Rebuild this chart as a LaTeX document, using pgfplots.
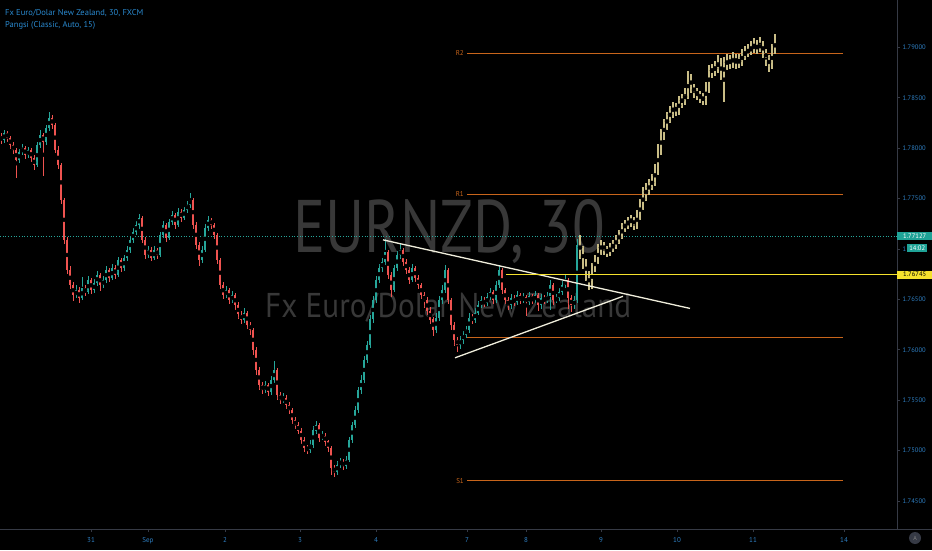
\documentclass[border=0pt]{standalone}
\usepackage{fontspec}
\setmainfont{PT Sans}
\usepackage{graphicx}
\usepackage{pgfplots}
\usepackage{pgfplotstable}
\pgfplotsset{compat=1.18}

\definecolor{upc}{HTML}{26A69A}
\definecolor{dnc}{HTML}{EF5350}
\definecolor{proj}{HTML}{C9BD86}
\definecolor{pivc}{HTML}{C8651B}
\definecolor{yelc}{HTML}{F5E12D}
\definecolor{trendc}{HTML}{F0EEDC}
\definecolor{wmc}{HTML}{383838}
\definecolor{axc}{HTML}{363A45}
\definecolor{tickc}{HTML}{2F80C4}
\definecolor{legc}{HTML}{2A8AD0}
\definecolor{tealbox}{HTML}{1FA397}

\pgfplotsset{
  body/.style 2 args={only marks, mark=none, restrict y to domain=1.7:1.8,
    error bars/y dir=both, error bars/y explicit, error bars/error mark=none,
    error bars/error bar style={draw=#1, line width=#2}},
  wick/.style 2 args={only marks, mark=none, restrict y to domain=1.7:1.8,
    error bars/y dir=both, error bars/y explicit, error bars/error mark=none,
    error bars/error bar style={draw=#1, line width=#2}},
}

% 30 min candles, x = horizontal position on the chart
\pgfplotstableread{
x o h l c
1 1.7812 1.7815 1.7804 1.7808
4 1.7808 1.7818 1.7805 1.7815
7 1.7815 1.7817 1.7806 1.7810
10 1.7810 1.7812 1.7799 1.7803
13 1.7803 1.7806 1.7794 1.7798
16 1.7798 1.7800 1.7770 1.7788
19 1.7788 1.7799 1.7785 1.7796
22 1.7796 1.7804 1.7793 1.7800
25 1.7800 1.7802 1.7789 1.7793
28 1.7793 1.7801 1.7790 1.7798
31 1.7798 1.7800 1.7786 1.7790
34 1.7790 1.7793 1.7778 1.7783
37 1.7783 1.7806 1.7781 1.7803
40 1.7803 1.7818 1.7800 1.7813
43 1.7813 1.7815 1.7772 1.7806
46 1.7806 1.7823 1.7803 1.7820
49 1.7820 1.7836 1.7817 1.7830
52 1.7830 1.7833 1.7819 1.7823
55 1.7823 1.7825 1.7795 1.7798
58 1.7798 1.7802 1.7779 1.7783
61 1.7783 1.7785 1.7745 1.7749
64 1.7749 1.7751 1.7705 1.7709
67 1.7709 1.7712 1.7675 1.7679
70 1.7679 1.7683 1.7660 1.7664
73 1.7664 1.7667 1.7648 1.7654
76 1.7654 1.7664 1.7651 1.7659
79 1.7659 1.7662 1.7646 1.7651
82 1.7651 1.7672 1.7649 1.7661
85 1.7661 1.7664 1.7653 1.7657
88 1.7657 1.7673 1.7655 1.7669
91 1.7669 1.7671 1.7655 1.7659
94 1.7659 1.7670 1.7656 1.7666
97 1.7666 1.7678 1.7663 1.7674
100 1.7674 1.7676 1.7658 1.7664
103 1.7664 1.7673 1.7661 1.7669
106 1.7669 1.7683 1.7666 1.7679
109 1.7679 1.7681 1.7667 1.7671
112 1.7671 1.7685 1.7669 1.7681
115 1.7681 1.7684 1.7670 1.7674
118 1.7674 1.7692 1.7672 1.7689
121 1.7689 1.7691 1.7677 1.7681
124 1.7681 1.7694 1.7678 1.7691
127 1.7691 1.7703 1.7688 1.7699
130 1.7699 1.7712 1.7696 1.7709
133 1.7709 1.7721 1.7706 1.7717
136 1.7717 1.7728 1.7714 1.7724
139 1.7724 1.7735 1.7720 1.7731
142 1.7731 1.7733 1.7706 1.7709
145 1.7709 1.7712 1.7690 1.7694
148 1.7694 1.7703 1.7691 1.7699
151 1.7699 1.7702 1.7688 1.7691
154 1.7691 1.7703 1.7689 1.7699
157 1.7699 1.7701 1.7690 1.7694
160 1.7694 1.7717 1.7692 1.7714
163 1.7714 1.7728 1.7711 1.7724
166 1.7724 1.7726 1.7707 1.7711
169 1.7711 1.7730 1.7709 1.7727
172 1.7727 1.7738 1.7724 1.7734
175 1.7734 1.7736 1.7720 1.7724
178 1.7724 1.7741 1.7722 1.7737
181 1.7737 1.7740 1.7727 1.7731
184 1.7731 1.7742 1.7729 1.7739
187 1.7739 1.7748 1.7736 1.7744
190 1.7744 1.7756 1.7741 1.7749
193 1.7749 1.7751 1.7720 1.7724
196 1.7724 1.7727 1.7700 1.7704
199 1.7704 1.7707 1.7683 1.7689
202 1.7689 1.7703 1.7686 1.7699
205 1.7699 1.7725 1.7697 1.7721
208 1.7721 1.7733 1.7718 1.7729
211 1.7729 1.7731 1.7720 1.7724
214 1.7724 1.7726 1.7710 1.7714
217 1.7714 1.7716 1.7685 1.7689
220 1.7689 1.7691 1.7660 1.7664
223 1.7664 1.7667 1.7650 1.7654
226 1.7654 1.7663 1.7651 1.7659
229 1.7659 1.7661 1.7645 1.7649
232 1.7649 1.7658 1.7646 1.7654
235 1.7654 1.7656 1.7640 1.7644
238 1.7644 1.7647 1.7631 1.7635
241 1.7635 1.7638 1.7626 1.7630
244 1.7630 1.7641 1.7627 1.7637
247 1.7637 1.7639 1.7621 1.7625
250 1.7625 1.7628 1.7615 1.7620
253 1.7620 1.7622 1.7595 1.7600
256 1.7600 1.7603 1.7575 1.7580
259 1.7580 1.7583 1.7560 1.7565
262 1.7565 1.7568 1.7556 1.7560
265 1.7560 1.7569 1.7557 1.7565
268 1.7565 1.7567 1.7554 1.7558
271 1.7558 1.7574 1.7555 1.7570
274 1.7570 1.7589 1.7567 1.7580
277 1.7580 1.7582 1.7550 1.7555
280 1.7555 1.7558 1.7546 1.7550
283 1.7550 1.7557 1.7547 1.7552
286 1.7552 1.7555 1.7541 1.7545
289 1.7545 1.7548 1.7536 1.7540
292 1.7540 1.7542 1.7526 1.7530
295 1.7530 1.7533 1.7521 1.7525
298 1.7525 1.7528 1.7516 1.7520
301 1.7520 1.7522 1.7507 1.7511
304 1.7511 1.7514 1.7499 1.7503
307 1.7503 1.7506 1.7497 1.7501
310 1.7501 1.7510 1.7498 1.7506
313 1.7506 1.7524 1.7503 1.7520
316 1.7520 1.7529 1.7517 1.7525
319 1.7525 1.7527 1.7509 1.7513
322 1.7513 1.7519 1.7510 1.7515
325 1.7515 1.7518 1.7505 1.7509
328 1.7509 1.7511 1.7499 1.7503
331 1.7503 1.7505 1.7476 1.7483
334 1.7483 1.7486 1.7474 1.7479
337 1.7479 1.7490 1.7476 1.7486
340 1.7486 1.7493 1.7483 1.7489
343 1.7489 1.7492 1.7481 1.7485
346 1.7485 1.7495 1.7482 1.7491
349 1.7491 1.7514 1.7489 1.7511
352 1.7511 1.7528 1.7508 1.7525
355 1.7525 1.7544 1.7522 1.7540
358 1.7540 1.7563 1.7537 1.7560
361 1.7560 1.7575 1.7556 1.7570
364 1.7570 1.7594 1.7567 1.7590
367 1.7590 1.7609 1.7587 1.7605
370 1.7605 1.7634 1.7602 1.7630
373 1.7630 1.7653 1.7627 1.7649
376 1.7649 1.7673 1.7646 1.7669
379 1.7669 1.7685 1.7666 1.7681
382 1.7681 1.7691 1.7677 1.7687
385 1.7687 1.7710 1.7684 1.7697
388 1.7697 1.7699 1.7670 1.7674
391 1.7674 1.7677 1.7652 1.7659
394 1.7659 1.7684 1.7657 1.7681
397 1.7681 1.7698 1.7678 1.7694
400 1.7694 1.7705 1.7690 1.7699
403 1.7699 1.7701 1.7683 1.7687
406 1.7687 1.7690 1.7675 1.7679
409 1.7679 1.7682 1.7665 1.7669
412 1.7669 1.7685 1.7667 1.7681
415 1.7681 1.7683 1.7667 1.7671
418 1.7671 1.7674 1.7660 1.7664
421 1.7664 1.7666 1.7650 1.7654
424 1.7654 1.7657 1.7642 1.7649
427 1.7649 1.7652 1.7634 1.7639
430 1.7639 1.7642 1.7626 1.7630
433 1.7630 1.7633 1.7614 1.7620
436 1.7620 1.7636 1.7617 1.7632
439 1.7632 1.7653 1.7629 1.7649
442 1.7649 1.7664 1.7645 1.7659
445 1.7659 1.7684 1.7656 1.7679
448 1.7679 1.7681 1.7645 1.7649
451 1.7649 1.7651 1.7620 1.7625
454 1.7625 1.7628 1.7604 1.7610
457 1.7610 1.7613 1.7598 1.7605
460 1.7605 1.7614 1.7601 1.7610
463 1.7610 1.7619 1.7606 1.7615
466 1.7615 1.7624 1.7612 1.7620
469 1.7620 1.7636 1.7617 1.7632
472 1.7632 1.7635 1.7626 1.7630
475 1.7630 1.7641 1.7627 1.7637
478 1.7637 1.7648 1.7634 1.7644
481 1.7644 1.7653 1.7641 1.7649
484 1.7649 1.7652 1.7642 1.7646
487 1.7646 1.7656 1.7643 1.7652
490 1.7652 1.7661 1.7649 1.7657
493 1.7657 1.7659 1.7645 1.7649
496 1.7649 1.7668 1.7646 1.7664
499 1.7664 1.7684 1.7661 1.7679
502 1.7679 1.7681 1.7655 1.7659
505 1.7659 1.7661 1.7645 1.7649
508 1.7649 1.7652 1.7640 1.7644
511 1.7644 1.7655 1.7641 1.7651
514 1.7651 1.7654 1.7643 1.7647
517 1.7647 1.7658 1.7644 1.7654
520 1.7654 1.7656 1.7645 1.7649
523 1.7649 1.7656 1.7646 1.7652
526 1.7652 1.7654 1.7634 1.7647
529 1.7647 1.7657 1.7644 1.7653
532 1.7653 1.7655 1.7645 1.7649
535 1.7649 1.7658 1.7646 1.7654
538 1.7654 1.7656 1.7638 1.7644
541 1.7644 1.7655 1.7641 1.7651
544 1.7651 1.7654 1.7645 1.7649
547 1.7649 1.7657 1.7646 1.7653
550 1.7653 1.7669 1.7640 1.7664
553 1.7664 1.7666 1.7644 1.7649
556 1.7649 1.7655 1.7646 1.7651
559 1.7651 1.7661 1.7648 1.7657
562 1.7657 1.7668 1.7654 1.7664
565 1.7664 1.7675 1.7661 1.7669
568 1.7669 1.7671 1.7640 1.7651
571 1.7651 1.7654 1.7638 1.7644
574 1.7644 1.7653 1.7640 1.7649
577 1.7649 1.7710 1.7646 1.7704
}\hist

% projected bars (bars pattern)
\pgfplotstableread{
x o h l c
580 1.7704 1.7714 1.7690 1.7699
583 1.7699 1.7703 1.7680 1.7687
586 1.7687 1.7690 1.7668 1.7674
589 1.7674 1.7678 1.7659 1.7664
592 1.7664 1.7686 1.7660 1.7681
595 1.7681 1.7694 1.7677 1.7689
598 1.7689 1.7705 1.7685 1.7699
601 1.7699 1.7709 1.7694 1.7704
604 1.7704 1.7707 1.7694 1.7699
607 1.7699 1.7703 1.7692 1.7697
610 1.7697 1.7706 1.7693 1.7701
613 1.7701 1.7709 1.7697 1.7704
616 1.7704 1.7714 1.7700 1.7709
619 1.7709 1.7719 1.7705 1.7714
622 1.7714 1.7726 1.7710 1.7721
625 1.7721 1.7729 1.7717 1.7724
628 1.7724 1.7732 1.7720 1.7727
631 1.7727 1.7734 1.7722 1.7729
634 1.7729 1.7732 1.7719 1.7724
637 1.7724 1.7739 1.7720 1.7734
640 1.7734 1.7750 1.7729 1.7744
643 1.7744 1.7761 1.7739 1.7754
646 1.7754 1.7765 1.7748 1.7759
649 1.7759 1.7769 1.7754 1.7763
652 1.7763 1.7774 1.7758 1.7768
655 1.7768 1.7784 1.7763 1.7778
658 1.7778 1.7804 1.7773 1.7798
661 1.7798 1.7819 1.7793 1.7813
664 1.7813 1.7829 1.7808 1.7823
667 1.7823 1.7836 1.7818 1.7830
670 1.7830 1.7842 1.7825 1.7836
673 1.7836 1.7846 1.7830 1.7840
676 1.7840 1.7845 1.7832 1.7838
679 1.7838 1.7852 1.7833 1.7846
682 1.7846 1.7854 1.7840 1.7848
685 1.7848 1.7860 1.7843 1.7853
688 1.7853 1.7877 1.7849 1.7870
691 1.7870 1.7874 1.7855 1.7860
694 1.7860 1.7864 1.7850 1.7856
697 1.7856 1.7860 1.7848 1.7853
700 1.7853 1.7857 1.7845 1.7850
703 1.7850 1.7855 1.7843 1.7848
706 1.7848 1.7866 1.7843 1.7860
709 1.7860 1.7882 1.7855 1.7876
712 1.7876 1.7884 1.7870 1.7878
715 1.7878 1.7886 1.7872 1.7880
718 1.7880 1.7892 1.7874 1.7885
721 1.7885 1.7889 1.7868 1.7873
724 1.7873 1.7890 1.7846 1.7883
727 1.7883 1.7893 1.7877 1.7887
730 1.7887 1.7892 1.7879 1.7885
733 1.7885 1.7895 1.7880 1.7889
736 1.7889 1.7893 1.7879 1.7885
739 1.7885 1.7893 1.7880 1.7887
742 1.7887 1.7898 1.7882 1.7892
745 1.7892 1.7901 1.7887 1.7895
748 1.7895 1.7903 1.7890 1.7897
751 1.7897 1.7906 1.7892 1.7899
754 1.7899 1.7909 1.7894 1.7902
757 1.7902 1.7907 1.7893 1.7899
760 1.7899 1.7910 1.7895 1.7903
763 1.7903 1.7906 1.7889 1.7895
766 1.7895 1.7898 1.7882 1.7889
769 1.7889 1.7892 1.7875 1.7882
772 1.7882 1.7903 1.7878 1.7897
775 1.7897 1.7913 1.7893 1.7907
}\proj

\begin{document}
\begin{tikzpicture}
\useasboundingbox (0,0) rectangle (932pt,550pt);
\fill[black] (0,0) rectangle (932pt,550pt);

\begin{axis}[
  at={(0pt,21pt)}, anchor=south west,
  scale only axis, width=897pt, height=529pt,
  xmin=0, xmax=897, ymin=1.74222, ymax=1.79469,
  axis x line*=bottom, axis y line*=right,
  axis line style={draw=axc, line width=0.8pt},
  clip mode=individual,
  xtick={91,148,225,300,376,467,526,601,677,753,844},
  xticklabels={31,Sep,2,3,4,7,8,9,10,11,14},
  ytick={1.745,1.750,1.755,1.760,1.765,1.770,1.775,1.780,1.785,1.790},
  yticklabels={1.74500,1.75000,1.75500,1.76000,1.76500,1,1.77500,1.78000,1.78500,1.79000},
  tick align=outside, major tick length=3pt,
  tick style={draw=axc, line width=0.6pt},
  xticklabel style={font=\fontsize{7}{8}\selectfont, text=tickc, inner sep=0pt, yshift=-5pt},
  yticklabel style={font=\fontsize{6.6}{8}\selectfont, text=tickc, inner sep=0pt, xshift=2.5pt},
]
% watermark behind the bars
\node[anchor=base west, inner sep=0, text=wmc] at (axis cs:293,1.7696)
  {\resizebox{312pt}{53pt}{EURNZD, 30}};
\node[anchor=base west, inner sep=0, text=wmc] at (axis cs:265,1.7632)
  {\resizebox{366pt}{24.5pt}{Fx Euro/Dolar New Zealand}};

% pivot levels
\addplot[pivc, line width=1.1pt] coordinates {(467,1.7894) (843,1.7894)};
\addplot[pivc, line width=1.1pt] coordinates {(467,1.7754) (843,1.7754)};
\addplot[pivc, line width=1.1pt] coordinates {(467,1.7612) (843,1.7612)};
\addplot[pivc, line width=1.1pt] coordinates {(467,1.7470) (843,1.7470)};
\node[anchor=east, inner sep=1pt, text=pivc, font=\fontsize{7}{8}\selectfont] at (axis cs:465,1.7894) {R2};
\node[anchor=east, inner sep=1pt, text=pivc, font=\fontsize{7}{8}\selectfont] at (axis cs:465,1.7754) {R1};
\node[anchor=east, inner sep=1pt, text=pivc, font=\fontsize{7}{8}\selectfont] at (axis cs:465,1.7470) {S1};

% last price
\addplot[upc, dotted, line width=0.7pt] coordinates {(0,1.77127) (897,1.77127)};

% candles
\addplot[wick={upc}{0.8pt}] table[x=x, y expr={ifthenelse(\thisrow{c}>=\thisrow{o},(\thisrow{h}+\thisrow{l})/2,0)}, y error expr={(\thisrow{h}-\thisrow{l})/2}] {\hist};
\addplot[body={upc}{2.4pt}] table[x=x, y expr={ifthenelse(\thisrow{c}>=\thisrow{o},(\thisrow{o}+\thisrow{c})/2,0)}, y error expr={max(abs(\thisrow{c}-\thisrow{o})/2,0.00005)}] {\hist};
\addplot[wick={dnc}{0.8pt}] table[x=x, y expr={ifthenelse(\thisrow{c}<\thisrow{o},(\thisrow{h}+\thisrow{l})/2,0)}, y error expr={(\thisrow{h}-\thisrow{l})/2}] {\hist};
\addplot[body={dnc}{2.4pt}] table[x=x, y expr={ifthenelse(\thisrow{c}<\thisrow{o},(\thisrow{o}+\thisrow{c})/2,0)}, y error expr={max(abs(\thisrow{c}-\thisrow{o})/2,0.00005)}] {\hist};

% projection
\addplot[wick={proj}{1.1pt}] table[x=x, y expr={(\thisrow{h}+\thisrow{l})/2}, y error expr={(\thisrow{h}-\thisrow{l})/2}] {\proj};
\addplot[body={proj}{2.9pt}] table[x=x, y expr={(\thisrow{o}+\thisrow{c})/2}, y error expr={max(abs(\thisrow{c}-\thisrow{o})/2,0.00005)}] {\proj};

% triangle
\addplot[trendc, line width=1.3pt] coordinates {(383,1.7709) (690,1.7641)};
\addplot[trendc, line width=1.3pt] coordinates {(455,1.7592) (623,1.7653)};

% breakout level
\addplot[yelc, line width=1.5pt] coordinates {(506,1.76745) (897,1.76745)};

\coordinate (lastp) at (axis cs:897,1.77127);
\coordinate (cdown) at (axis cs:907,1.7701);
\coordinate (yelp) at (axis cs:897,1.76745);
\end{axis}

\draw[axc, line width=0.8pt] (897pt,21pt) -- (932pt,21pt);

\node[anchor=west, fill=tealbox, text=white, inner xsep=2pt, inner ysep=1.5pt, minimum width=35pt,
  font=\fontsize{6.6}{8}\selectfont] at (lastp) {1.77127};
\node[anchor=west, fill=tealbox, text=white, inner xsep=2pt, inner ysep=1.2pt, minimum width=20pt,
  font=\fontsize{6.6}{8}\selectfont] at (cdown) {14:02};
\node[anchor=west, fill=yelc, text=black, inner xsep=2pt, inner ysep=1.5pt, minimum width=35pt,
  font=\fontsize{6.6}{8}\selectfont] at (yelp) {1.76745};

\node[anchor=base west, inner sep=0, text=legc, font=\fontsize{8.5}{10}\selectfont] at (5pt,534pt)
  {Fx Euro/Dolar New Zealand, 30, FXCM};
\node[anchor=base west, inner sep=0, text=legc, font=\fontsize{8.5}{10}\selectfont] at (5pt,522pt)
  {Pangsi (Classic, Auto, 15)};

\fill[axc] (915pt,12pt) circle (6pt);
\node[text=gray, font=\fontsize{6}{7}\selectfont, inner sep=0] at (915pt,12pt) {A};
\end{tikzpicture}
\end{document}
